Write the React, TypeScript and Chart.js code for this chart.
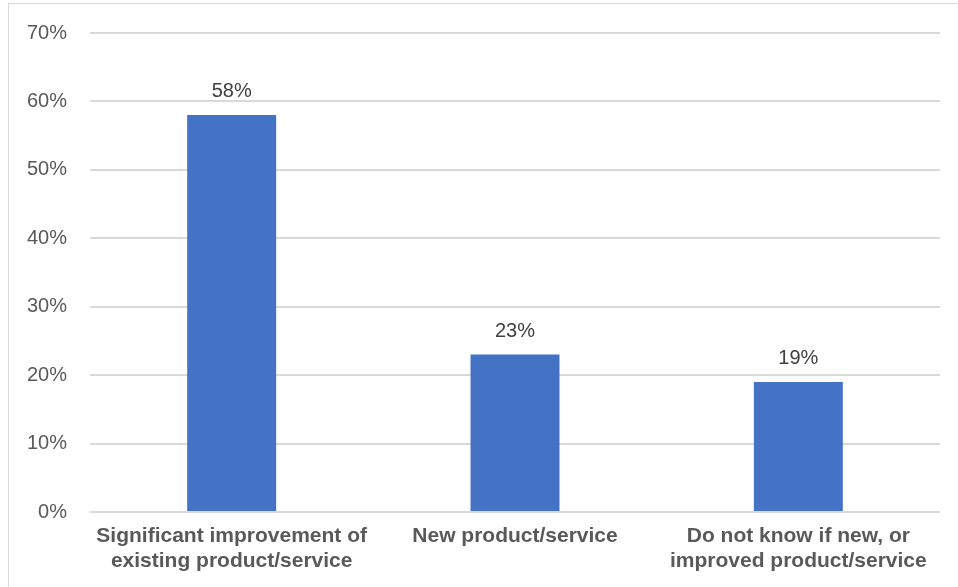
import React, { useEffect, useRef } from "react";
import { Chart, registerables } from "chart.js";

Chart.register(...registerables);

const categories: string[][] = [
  ["Significant improvement of", "existing product/service"],
  ["New product/service"],
  ["Do not know if new, or", "improved product/service"],
];
const values: number[] = [58, 23, 19];
const yMin = 0;
const yMax = 70;
const yStep = 10;

const barColor = "#4472C4";
const gridColor = "#d9d9d9";
const tickColor = "#595959";
const labelColor = "#404040";

const dataLabelPlugin = {
  id: "dataLabels",
  afterDatasetsDraw(chart: any) {
    const ctx = chart.ctx;
    const meta = chart.getDatasetMeta(0);
    ctx.save();
    ctx.font = "20px 'Liberation Sans', Arial, sans-serif";
    ctx.fillStyle = labelColor;
    ctx.textAlign = "center";
    ctx.textBaseline = "alphabetic";
    meta.data.forEach((bar: any, i: number) => {
      const v = chart.data.datasets[0].data[i];
      ctx.fillText(`${v}%`, bar.x, bar.y - 18);
    });
    ctx.restore();
  },
};

export default function App() {
  const ref = useRef<HTMLCanvasElement | null>(null);
  useEffect(() => {
    if (!ref.current) return;
    const chart = new Chart(ref.current, {
      type: "bar",
      data: {
        labels: categories,
        datasets: [
          {
            data: values,
            backgroundColor: barColor,
            borderWidth: 0,
            categoryPercentage: 1,
            barPercentage: 0.314,
          },
        ],
      },
      options: {
        animation: false,
        responsive: true,
        maintainAspectRatio: false,
        layout: { padding: { top: 29, left: 0, right: 18, bottom: 0 } },
        plugins: { legend: { display: false }, tooltip: { enabled: false } },
        scales: {
          y: {
            min: yMin,
            max: yMax,
            afterFit(scale: any) {
              scale.width = 81;
              scale.paddingTop = 0;
              scale.paddingBottom = 0;
            },
            border: { display: false },
            grid: { color: gridColor, lineWidth: 2, drawTicks: false },
            ticks: {
              stepSize: yStep,
              padding: 23,
              color: tickColor,
              font: { family: "'Liberation Sans', Arial, sans-serif", size: 20 },
              callback: (v: any) => `${v}%`,
            },
          },
          x: {
            afterFit(scale: any) {
              scale.height = 75;
            },
            border: { display: false },
            grid: { display: false, drawTicks: false },
            ticks: {
              padding: 12,
              color: tickColor,
              maxRotation: 0,
              autoSkip: false,
              font: {
                family: "'Liberation Sans', Arial, sans-serif",
                size: 21,
                weight: "bold",
                lineHeight: 25 / 21,
              },
            },
          },
        },
      },
      plugins: [dataLabelPlugin],
    });
    return () => chart.destroy();
  }, []);

  return (
    <div
      style={{
        position: "absolute",
        left: 8,
        top: 3,
        width: 960,
        height: 600,
        borderLeft: "1px solid #d9d9d9",
        borderTop: "1px solid #d9d9d9",
        boxSizing: "border-box",
        background: "#fff",
      }}
    >
      <div style={{ position: "relative", width: 949, height: 583 }}>
        <canvas ref={ref} />
      </div>
    </div>
  );
}
